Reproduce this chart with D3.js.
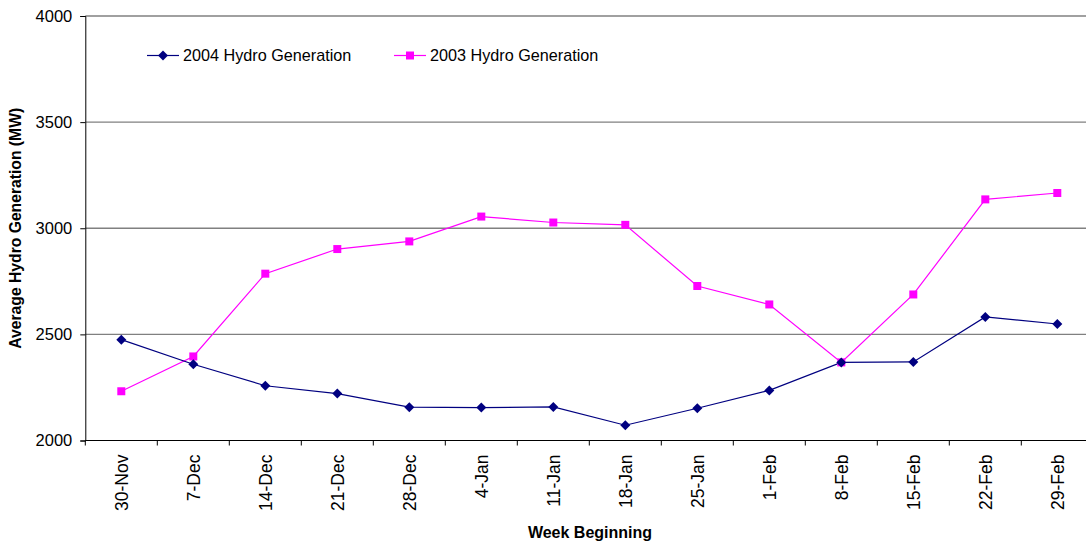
<!DOCTYPE html>
<html>
<head>
<meta charset="utf-8">
<script src="https://cdn.jsdelivr.net/npm/d3@7"></script>
<style>
  body { margin: 0; background: #fff; }
  svg { display: block; font-family: "Liberation Sans", Arial, sans-serif; }
</style>
</head>
<body>
<svg id="chart" width="1086" height="546"></svg>
<script>
const weeks = ["30-Nov","7-Dec","14-Dec","21-Dec","28-Dec","4-Jan","11-Jan","18-Jan","25-Jan","1-Feb","8-Feb","15-Feb","22-Feb","29-Feb"];
const gen2004 = [2475, 2359, 2258, 2221, 2157, 2155, 2158, 2072, 2152, 2236, 2368, 2370, 2582, 2549];
const gen2003 = [2232, 2396, 2786, 2902, 2938, 3055, 3027, 3016, 2728, 2641, 2368, 2688, 3136, 3166];
const yTicks = [2000, 2500, 3000, 3500, 4000];
const seriesNames = ["2004 Hydro Generation", "2003 Hydro Generation"];

const svg = d3.select("#chart");
const plotLeft = 85.3, plotTop = 16, plotBottom = 440.5, bandW = 72;
const x = d3.scaleBand().domain(weeks).range([plotLeft, plotLeft + bandW * weeks.length]).padding(0);
const y = d3.scaleLinear().domain([2000, 4000]).range([plotBottom, plotTop]);
const cx = d => x(d) + x.bandwidth() / 2;

// gridlines
svg.append("g").selectAll("line").data(yTicks.filter(t => t > 2000)).join("line")
  .attr("x1", plotLeft).attr("x2", 1086)
  .attr("y1", d => y(d)).attr("y2", d => y(d))
  .attr("stroke", "#808080").attr("stroke-width", 1.3);

// y axis
const yAxis = d3.axisLeft(y).tickValues(yTicks).tickSize(5).tickPadding(8).tickFormat(d3.format("d"));
const gy = svg.append("g").attr("transform", `translate(${plotLeft},0)`).call(yAxis);
gy.select(".domain").attr("stroke", "#000");
gy.selectAll(".tick line").attr("stroke", "#000");
gy.selectAll(".tick text").attr("font-size", "16.5px").attr("fill", "#000").attr("font-family", "Liberation Sans, Arial, sans-serif");

// x axis
const xAxis = d3.axisBottom(x).tickSize(0).tickPadding(0);
const gx = svg.append("g").attr("transform", `translate(0,${plotBottom})`).call(xAxis);
gx.select(".domain").remove();
gx.append("line").attr("x1", plotLeft).attr("x2", 1086).attr("y1", 0).attr("y2", 0).attr("stroke", "#000");
gx.selectAll(".tick text")
  .attr("font-size", "17.5px").attr("fill", "#000").attr("font-family", "Liberation Sans, Arial, sans-serif")
  .attr("transform", "rotate(-90)")
  .attr("text-anchor", "end")
  .attr("x", -14).attr("y", 0).attr("dy", "0.36em");
// boundary ticks
const bounds = weeks.map(d => x(d)).concat([x.range()[1]]);
gx.append("g").selectAll("line").data(bounds).join("line")
  .attr("x1", d => d).attr("x2", d => d).attr("y1", 0).attr("y2", 5).attr("stroke", "#000");

// titles
svg.append("text").attr("transform", `translate(21,${(plotTop + plotBottom) / 2}) rotate(-90)`)
  .attr("text-anchor", "middle").attr("font-size", "15.7px").attr("font-weight", "bold")
  .text("Average Hydro Generation (MW)");
svg.append("text").attr("x", 590).attr("y", 538).attr("text-anchor", "middle")
  .attr("font-size", "16px").attr("font-weight", "bold").text("Week Beginning");

// lines
const line = d3.line().x((d, i) => cx(weeks[i])).y(d => y(d));
svg.append("path").datum(gen2003).attr("d", line).attr("fill", "none").attr("stroke", "#FF00FF").attr("stroke-width", 1.2);
svg.append("path").datum(gen2004).attr("d", line).attr("fill", "none").attr("stroke", "#000080").attr("stroke-width", 1.2);

const sq = d3.symbol().type(d3.symbolSquare).size(64);
const dia = d3.symbol().type(d3.symbolSquare).size(50);
svg.append("g").selectAll("path").data(gen2003).join("path")
  .attr("d", sq).attr("transform", (d, i) => `translate(${cx(weeks[i])},${y(d)})`).attr("fill", "#FF00FF");
svg.append("g").selectAll("path").data(gen2004).join("path")
  .attr("d", dia).attr("transform", (d, i) => `translate(${cx(weeks[i])},${y(d)}) rotate(45)`).attr("fill", "#000080");

// legend
const leg = [
  { name: seriesNames[0], color: "#000080", sym: dia, rot: 45, x0: 147 },
  { name: seriesNames[1], color: "#FF00FF", sym: sq, rot: 0, x0: 394 }
];
const lg = svg.append("g");
leg.forEach(l => {
  lg.append("line").attr("x1", l.x0).attr("x2", l.x0 + 32).attr("y1", 55.5).attr("y2", 55.5).attr("stroke", l.color).attr("stroke-width", 1.2);
  lg.append("path").attr("d", l.sym).attr("transform", `translate(${l.x0 + 16},55.5) rotate(${l.rot})`).attr("fill", l.color);
  lg.append("text").attr("x", l.x0 + 36).attr("y", 61).attr("font-size", "16.2px").attr("fill", "#000").text(l.name);
});
</script>
</body>
</html>
